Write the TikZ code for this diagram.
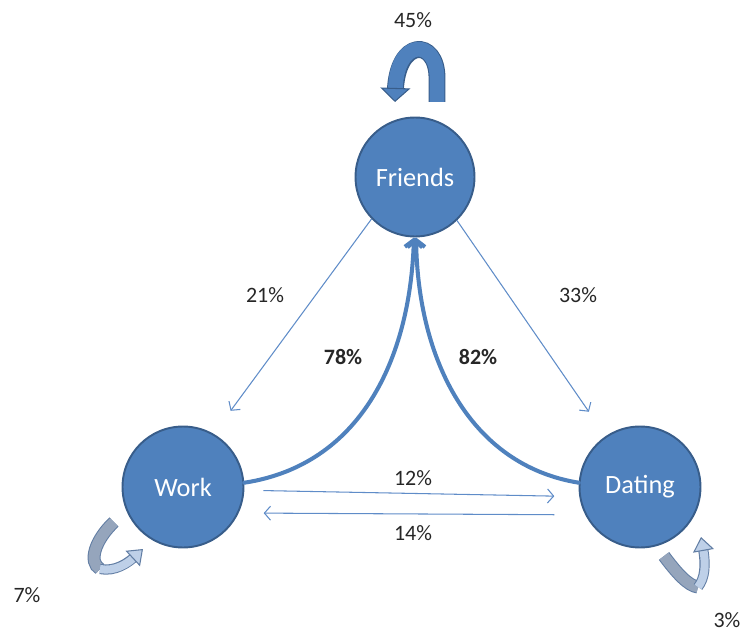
\documentclass[tikz,border=0pt]{standalone}
\usepackage{fontspec}
\setmainfont{Carlito}
\usetikzlibrary{arrows.meta, positioning}
\definecolor{nodeblue}{RGB}{79,129,189}
\definecolor{nodeborder}{RGB}{56,93,138}
\definecolor{linkblue}{RGB}{95,140,200}
\definecolor{labelgrey}{RGB}{38,38,38}
\definecolor{loopgrey}{RGB}{149,165,188}
\definecolor{looplight}{RGB}{190,208,232}
\definecolor{loopborder}{RGB}{98,126,164}

\begin{document}
\begin{tikzpicture}[x=0.02cm, y=-0.02cm,
    state/.style={circle, draw=nodeborder, fill=nodeblue, line width=1.1pt, minimum size=2.38cm, text=white, font=\fontsize{15}{18}\selectfont},
    pct/.style={text=labelgrey, font=\fontsize{12.5}{15}\selectfont, inner sep=1pt},
    thinarrow/.style={draw=linkblue, line width=0.6pt, -{Straight Barb[length=3.5pt,width=8pt]}},
    thickarrow/.style={draw=nodeblue, line width=2.3pt, line cap=round, -{Straight Barb[length=4pt,width=10pt]}},
    ribbon/.style n args={3}{draw=#1, line width=#2, preaction={draw=#3, line width=#2+1.2pt, -}},
    headribbon/.style n args={3}{draw=#1, line width=#2, preaction={draw=#3, line width=#2+1.2pt, shorten >=6pt, -}}]
\useasboundingbox (0,0) rectangle (744,635);

% states
\node[state] (friends) at (415,177) {Friends};
\node[state, minimum size=2.42cm] (work) at (183,487) {Work};
\node[state, minimum size=2.42cm] (dating) at (640,487) {Dating};

% thin transitions
\draw[thinarrow, shorten >=0.57cm] (friends.224) -- (work.60);
\draw[thinarrow, shorten >=0.59cm] (friends.314) -- (dating.124);
\draw[thinarrow, shorten <=0.38cm, shorten >=0.5cm] (work.-3) -- (dating.189.6);
\draw[thinarrow, shorten <=0.62cm, shorten >=0.5cm] (dating.207.8) -- (work.-25.7);

% thick transitions back to friends
\draw[thickarrow] (work.4) .. controls (360,465) and (410,360) .. (friends.269);
\draw[thickarrow] (dating.176) .. controls (470,465) and (418,360) .. (friends.271);

% self loops
\draw[headribbon={nodeblue}{8.4pt}{nodeborder}, -{Triangle[width=17pt,length=8pt,color=nodeborder,fill=nodeblue,line width=0.6pt]}]
    (437,102) -- (437,78) .. controls (437,38) and (397,38) .. (395,102);
\draw[ribbon={loopgrey}{6.2pt}{loopborder}] (114,522) .. controls (95,540) and (88,562) .. (100,569);
\draw[headribbon={looplight}{4.6pt}{loopborder}, -{Triangle[width=12pt,length=8pt,color=loopborder,fill=looplight,line width=0.6pt]}]
    (100,569) .. controls (115,572) and (128,563) .. (143,549);
\draw[ribbon={loopgrey}{6.2pt}{loopborder}] (664,556) .. controls (676,572) and (688,586) .. (698,587);
\draw[headribbon={looplight}{4.6pt}{loopborder}, -{Triangle[width=12pt,length=8pt,color=loopborder,fill=looplight,line width=0.6pt]}]
    (698,587) .. controls (705,578) and (706,565) .. (701,537);

% labels
\node[pct] (p45) at (413,20) {45\%};
\node[pct] (p21) at (265,295) {21\%};
\node[pct] (p33) at (578,295) {33\%};
\node[pct, font=\fontsize{12.5}{15}\selectfont\bfseries] (p78) at (343,357) {78\%};
\node[pct, font=\fontsize{12.5}{15}\selectfont\bfseries] (p82) at (478,357) {82\%};
\node[pct] (p12) at (413,478) {12\%};
\node[pct] (p14) at (413,533) {14\%};
\node[pct] (p7) at (27,595) {7\%};
\node[pct] (p3) at (727,620) {3\%};
\end{tikzpicture}
\end{document}
